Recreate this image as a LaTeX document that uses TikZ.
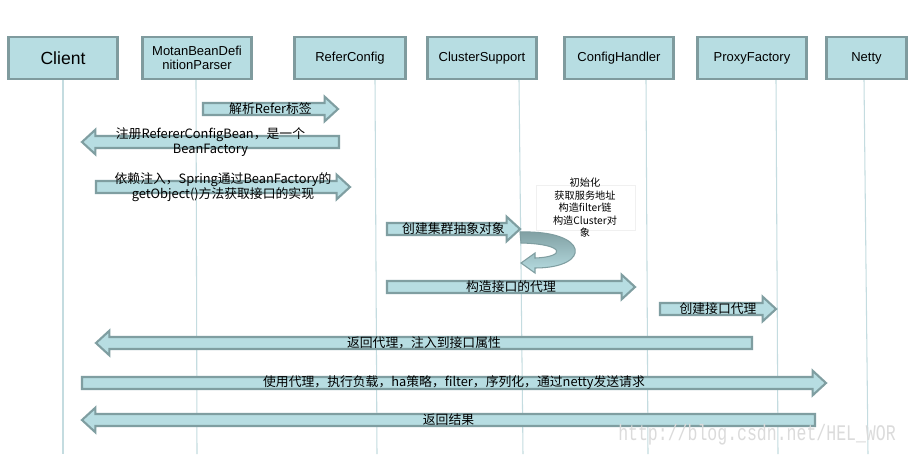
\documentclass[tikz,border=0pt]{standalone}
\usepackage{fontspec}
\setmainfont{Liberation Sans}
\newfontfamily\cjk{Noto Sans CJK SC}
\newfontfamily\wmfont{Liberation Mono}
\usetikzlibrary{calc,shadows}

\definecolor{actorfill}{HTML}{B7DDE2}
\definecolor{actoredge}{HTML}{7F9B9E}
\definecolor{arrowfill}{HTML}{B7DDE2}
\definecolor{arrowedge}{HTML}{7F9EA1}
\definecolor{lifecolor}{HTML}{C4DCE0}

\begin{document}
\begin{tikzpicture}[x=0.02cm, y=-0.02cm,
        actor/.style={rectangle, draw=actoredge, fill=actorfill, line width=1.6pt, minimum width=2.18cm, minimum height=0.84cm, inner sep=1pt, align=center, font=\fontsize{7.4}{8.2}\selectfont},
        lifeline/.style={draw=lifecolor, line width=0.6pt},
        msg/.style={draw=arrowedge, fill=arrowfill, line width=1.2pt,
            to path={let \p1=(\tikztostart), \p2=(\tikztotarget),
                \p3=($(\tikztotarget)!7.6pt!(\tikztostart)$) in
                (\x1,\y1+3.4pt) -- (\x3,\y1+3.4pt) -- (\x3,\y1+7pt) -- (\p2)
                -- (\x3,\y1-7pt) -- (\x3,\y1-3.4pt) -- (\x1,\y1-3.4pt) -- cycle}},
        msglabel/.style={inner sep=0pt, align=center, font=\cjk\fontsize{7.3}{8.8}\selectfont}]

    \useasboundingbox[fill=white] (0,0) rectangle (910,454);

    % lifelines
    \draw[lifeline] (63,80) -- (63,454);
    \draw[lifeline] (196,80) -- (197,454);
    \draw[lifeline] (375,80) -- (377,454);
    \draw[lifeline] (519,80) -- (523,454);
    \draw[lifeline] (646,80) -- (648,454);
    \draw[lifeline] (776,80) -- (778,454);
    \draw[lifeline] (864,80) -- (868,454);

    % participants
    \node[actor, font=\fontsize{10}{12}\selectfont] (client) at (63,58) {Client};
    \node[actor] (parser) at (197,58) {MotanBeanDefi\\nitionParser};
    \node[actor, minimum width=2.22cm] (refer) at (350,58) {ReferConfig};
    \node[actor] (cluster) at (482,58) {ClusterSupport};
    \node[actor] (handler) at (619,58) {ConfigHandler};
    \node[actor] (proxy) at (752,58) {ProxyFactory};
    \node[actor, minimum width=1.6cm] (netty) at (866.5,58) {Netty};

    % message ends
    \coordinate (parse-a) at (203,109);
    \coordinate (parse-b) at (338,109);
    \coordinate (reg-a) at (339,142);
    \coordinate (reg-b) at (82,142);
    \coordinate (inject-a) at (96,187);
    \coordinate (inject-b) at (350,187);
    \coordinate (create-a) at (387,229);
    \coordinate (create-b) at (520,229);
    \coordinate (build-a) at (387,287);
    \coordinate (build-b) at (635,287);
    \coordinate (make-a) at (660,309);
    \coordinate (make-b) at (776,309);
    \coordinate (return-a) at (752,343);
    \coordinate (return-b) at (96,343);
    \coordinate (call-a) at (82,383);
    \coordinate (call-b) at (826,383);
    \coordinate (result-a) at (815,420);
    \coordinate (result-b) at (82,420);

    \draw[msg] (parse-a) to (parse-b);
    \draw[msg] (reg-a) to (reg-b);
    \draw[msg] (inject-a) to (inject-b);
    \draw[msg] (create-a) to (create-b);
    \draw[msg] (build-a) to (build-b);
    \draw[msg] (make-a) to (make-b);
    \draw[msg] (return-a) to (return-b);
    \draw[msg] (call-a) to (call-b);
    \draw[msg] (result-a) to (result-b);

    % note on ClusterSupport
    \node[rectangle, fill=white, draw=gray!12, minimum width=1.98cm, minimum height=0.9cm, drop shadow={opacity=0.2, shadow xshift=0.8pt, shadow yshift=-0.8pt}] (note) at (585.5,207.5) {};
    \draw[draw=arrowedge, line width=0.6pt, top color=arrowedge, bottom color=arrowfill]
        (520,232) .. controls (590,230) and (592,268) .. (535,268) -- (535,273) -- (521,263)
        -- (535,253) -- (535,258) .. controls (566,257) and (566,244) .. (521,243) -- cycle;
    \node[inner sep=0pt, align=center, font=\cjk\fontsize{5.8}{7.1}\selectfont] (notetext) at (585,208) {初始化\\获取服务地址\\构造filter链\\构造Cluster对\\象};

    % labels
    \node[msglabel] (parse) at ($(parse-a)!0.5!(parse-b)$) {解析Refer标签};
    \node[msglabel] (reg) at ($(reg-a)!0.5!(reg-b)$) {注册RefererConfigBean，是一个\\BeanFactory};
    \node[msglabel] (inject) at ($(inject-a)!0.5!(inject-b)$) {依赖注入，Spring通过BeanFactory的\\getObject()方法获取接口的实现};
    \node[msglabel] (create) at ($(create-a)!0.5!(create-b)$) {创建集群抽象对象};
    \node[msglabel] (build) at ($(build-a)!0.5!(build-b)$) {构造接口的代理};
    \node[msglabel] (make) at ($(make-a)!0.5!(make-b)$) {创建接口代理};
    \node[msglabel] (return) at ($(return-a)!0.5!(return-b)$) {返回代理，注入到接口属性};
    \node[msglabel] (call) at ($(call-a)!0.5!(call-b)$) {使用代理，执行负载，ha策略，filter，序列化，通过netty发送请求};
    \node[msglabel] (result) at ($(result-a)!0.5!(result-b)$) {返回结果};

    \node[anchor=base, text=gray!28, yscale=1.35, font=\wmfont\fontsize{9.4}{10}\selectfont] (mark) at (757,440) {http://blog.csdn.net/HEL\_WOR};

\end{tikzpicture}
\end{document}
